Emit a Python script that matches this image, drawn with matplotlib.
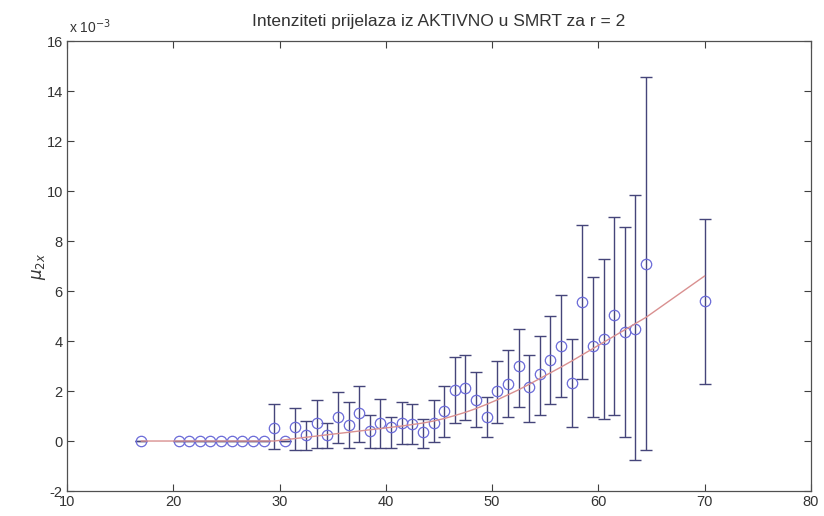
import matplotlib
matplotlib.use('Agg')
import matplotlib.pyplot as plt
import numpy as np

# ages (years)
ages = [17, 20.5, 21.5, 22.5, 23.5, 24.5, 25.5, 26.5, 27.5, 28.5,
        29.5, 30.5, 31.5, 32.5, 33.5, 34.5, 35.5, 36.5, 37.5, 38.5,
        39.5, 40.5, 41.5, 42.5, 43.5, 44.5, 45.5, 46.5, 47.5, 48.5,
        49.5, 50.5, 51.5, 52.5, 53.5, 54.5, 55.5, 56.5, 57.5, 58.5,
        59.5, 60.5, 61.5, 62.5, 63.5, 64.5, 70]

# estimated intensities mu_2x, in units of 1e-3
mu = [0, 0, 0, 0, 0, 0, 0, 0, 0, 0,
      0.51, 0, 0.56, 0.24, 0.74, 0.24, 0.97, 0.64, 1.12, 0.42,
      0.74, 0.57, 0.71, 0.67, 0.37, 0.74, 1.20, 2.05, 2.12, 1.64,
      0.98, 2.02, 2.29, 2.99, 2.16, 2.70, 3.26, 3.82, 2.32, 5.57,
      3.80, 4.10, 5.04, 4.37, 4.48, 7.10, 5.60]

# confidence bounds (1e-3)
upper = [0, 0, 0, 0, 0, 0, 0, 0, 0, 0,
         1.47, 0, 1.31, 0.81, 1.64, 0.73, 1.95, 1.55, 2.20, 1.06,
         1.70, 0.96, 1.56, 1.48, 0.90, 1.64, 2.20, 3.37, 3.46, 2.77,
         1.78, 3.20, 3.64, 4.50, 3.44, 4.20, 5.00, 5.84, 4.10, 8.64,
         6.57, 7.30, 8.97, 8.57, 9.84, 14.57, 8.88]
lower = [0, 0, 0, 0, 0, 0, 0, 0, 0, 0,
         -0.33, 0, -0.35, -0.35, -0.27, -0.27, -0.08, -0.29, -0.03, -0.29,
         -0.26, -0.29, -0.12, -0.12, -0.29, -0.03, 0.16, 0.72, 0.86, 0.55,
         0.15, 0.72, 0.97, 1.37, 0.77, 1.04, 1.47, 1.77, 0.55, 2.47,
         0.97, 0.90, 1.04, 0.17, -0.76, -0.36, 2.28]

# graduated (fitted) intensities, 1e-3
fitted = [0, 0, 0, 0, 0, 0, 0, 0, 0, 0,
          0.0, 0.05, 0.10, 0.15, 0.20, 0.25, 0.30, 0.35, 0.40, 0.45,
          0.50, 0.55, 0.60, 0.66, 0.72, 0.80, 0.90, 1.02, 1.15, 1.30,
          1.47, 1.65, 1.85, 2.05, 2.27, 2.50, 2.73, 2.96, 3.20, 3.45,
          3.70, 3.95, 4.20, 4.45, 4.70, 4.95, 6.60]

x_ticks = [10, 20, 30, 40, 50, 60, 70, 80]
y_ticks = [-2, 0, 2, 4, 6, 8, 10, 12, 14, 16]

plt.rcParams['font.family'] = ['Liberation Sans', 'DejaVu Sans']
plt.rcParams['axes.unicode_minus'] = False

fig = plt.figure(figsize=(8.24, 5.16), dpi=100)
ax = fig.add_axes([0.0813, 0.0484, 0.9027, 0.8721])

mu_a = np.array(mu)
yerr = [mu_a - np.array(lower), np.array(upper) - mu_a]
ax.errorbar(ages, mu, yerr=yerr, fmt='none', ecolor='#45457a',
            elinewidth=1.0, capsize=4.5, capthick=1.0, zorder=2)
ax.plot(ages, mu, 'o', mfc='none', mec='#6a6ad8', ms=7.5, mew=0.9, zorder=3)
ax.plot(ages, fitted, '-', color='#d99090', lw=1.0, zorder=4)

ax.set_xlim(10, 80)
ax.set_ylim(-2, 16)
ax.set_xticks(x_ticks)
ax.set_yticks(y_ticks)
ax.tick_params(direction='in', top=True, right=True, length=5,
               width=0.8, color='#404040', labelsize=10.5, pad=3,
               labelcolor='#333333')
for s in ax.spines.values():
    s.set_color('#505050')
    s.set_linewidth(0.9)

ax.set_title('Intenziteti prijelaza iz AKTIVNO u SMRT za r = 2',
             fontsize=12.5, color='#333333', pad=11)
ax.set_ylabel(r'$\mu_{2x}$', fontsize=12, color='#333333', labelpad=-1)
ax.text(0.003, 1.012, r'x 10$^{-3}$', transform=ax.transAxes,
        fontsize=10, color='#333333', ha='left', va='bottom')

fig.savefig('out.png', dpi=100)
plt.close(fig)
